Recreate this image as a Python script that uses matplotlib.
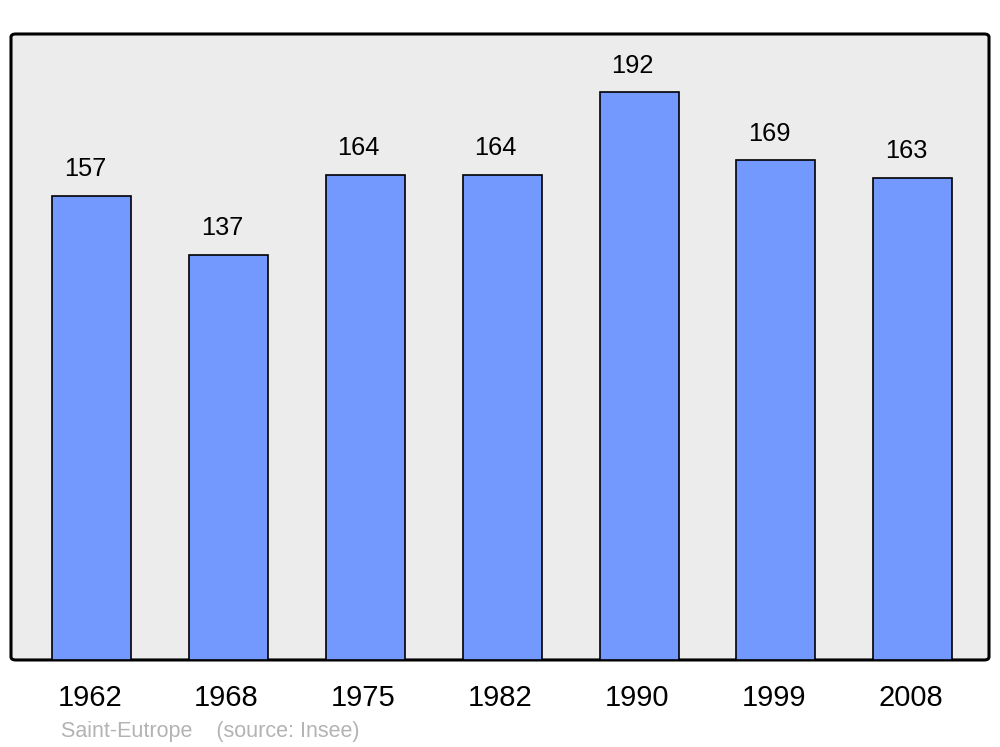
import matplotlib
matplotlib.use("Agg")
import matplotlib.pyplot as plt
from matplotlib.patches import FancyBboxPatch

plt.rcParams["font.family"] = ["Liberation Sans", "DejaVu Sans"]

years = ["1962", "1968", "1975", "1982", "1990", "1999", "2008"]
population = [157, 137, 164, 164, 192, 169, 163]
commune = "Saint-Eutrope"
source = "(source: Insee)"

fig = plt.figure(figsize=(10, 7.47), dpi=100)
ax = fig.add_axes([0.011, 0.1165, 0.978, 0.838])

# rounded grey frame behind the bars
frame = FancyBboxPatch((0, 0), 1, 1,
                       boxstyle="round,pad=0,rounding_size=0.005",
                       transform=ax.transAxes, facecolor="#ececec",
                       edgecolor="black", linewidth=2.2, zorder=0,
                       clip_on=False)
ax.add_patch(frame)
ax.set_facecolor("none")
for s in ax.spines.values():
    s.set_visible(False)

x = range(len(years))
ax.bar(x, population, width=0.578, color="#7399ff", edgecolor="black",
       linewidth=1.2, zorder=2)

for xi, v in zip(x, population):
    ax.text(xi - 0.05, v + 9.0, str(v), ha="center", va="center",
            fontsize=18.3, color="black")

ax.set_xlim(-0.591, 6.558)
ax.set_ylim(0, 211.7)
ax.set_yticks([])
ax.set_xticks([xi - 0.015 for xi in x])
ax.set_xticklabels(years, fontsize=21)
ax.tick_params(axis="x", length=0, pad=17)

fig.text(0.061, 0.0134, commune + "    " + source, fontsize=15.5,
         color="#b3b3b3", ha="left", va="baseline")

fig.savefig("out.png", dpi=100)
